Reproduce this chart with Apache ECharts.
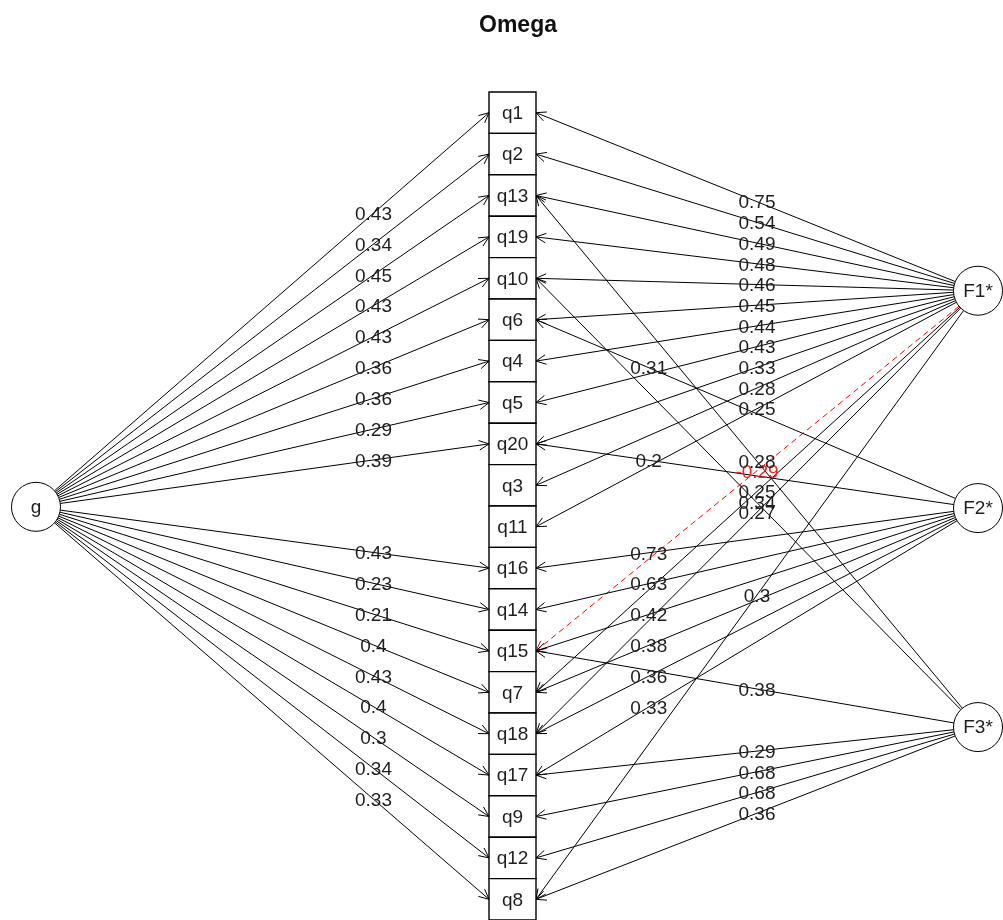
<!DOCTYPE html>
<html><head><meta charset="utf-8">
<script src="https://cdn.jsdelivr.net/npm/echarts@6/dist/echarts.min.js"></script>
<style>html,body{margin:0;padding:0;background:#fff}#c{width:1003px;height:920px}</style>
</head><body><div id="c"></div>
<script>
// ---- data ----
const items = ['q1','q2','q13','q19','q10','q6','q4','q5','q20','q3','q11','q16','q14','q15','q7','q18','q17','q9','q12','q8'];
// general factor loadings, aligned with items (null = not drawn)
const gLoadings = [0.43,0.34,0.45,0.43,0.43,0.36,0.36,0.29,0.39,null,null,0.43,0.23,0.21,0.4,0.43,0.4,0.3,0.34,0.33];
const factorNames = ['F1*','F2*','F3*'];
const f1Items = ['q1','q2','q13','q19','q10','q6','q4','q5','q20','q3','q11','q15','q7','q18','q8'];
const f1Loadings = [0.75,0.54,0.49,0.48,0.46,0.45,0.44,0.43,0.33,0.28,0.25,-0.29,0.25,0.27,0.3];
const f2Items = ['q6','q20','q16','q14','q15','q7','q18','q17'];
const f2Loadings = [0.31,0.2,0.73,0.63,0.42,0.38,0.36,0.33];
const f3Items = ['q13','q10','q15','q17','q9','q12','q8'];
const f3Loadings = [0.28,0.34,0.38,0.29,0.68,0.68,0.36];
const title = 'Omega';

// ---- layout (diagram units: x in px-like units, y in item rows) ----
const X_G = 36, X_BOX_L = 489, X_BOX_R = 536, X_F = 978;
const G_ROW = 9.52;
const F_ROWS = [4.3, 9.55, 14.84];
const NODE_R = 24.5;
const FONT = '"Liberation Sans", Arial, sans-serif';

const edgeData = [];
gLoadings.forEach((v, i) => { if (v != null) edgeData.push([X_G, G_ROW, X_BOX_L, i, v, 0.745]); });
const fSets = [[f1Items, f1Loadings, 0.5], [f2Items, f2Loadings, 0.745], [f3Items, f3Loadings, 0.5]];
fSets.forEach(([its, ls, frac], k) => {
  its.forEach((q, j) => edgeData.push([X_F, F_ROWS[k], X_BOX_R, items.indexOf(q), ls[j], frac]));
});

function renderEdge(params, api) {
  const p1 = api.coord([api.value(0), api.value(1)]);
  const p2 = api.coord([api.value(2), api.value(3)]);
  const v = api.value(4), frac = api.value(5);
  const dx = p2[0] - p1[0], dy = p2[1] - p1[1];
  const L = Math.hypot(dx, dy), ux = dx / L, uy = dy / L;
  const s = [p1[0] + ux * NODE_R, p1[1] + uy * NODE_R];
  const neg = v < 0;
  const color = neg ? '#ff0000' : '#000000';
  const a = Math.atan2(dy, dx), ah = 11, ang = Math.PI / 7;
  const h1 = [p2[0] - ah * Math.cos(a - ang), p2[1] - ah * Math.sin(a - ang)];
  const h2 = [p2[0] - ah * Math.cos(a + ang), p2[1] - ah * Math.sin(a + ang)];
  const lx = p1[0] + dx * frac, ly = p1[1] + dy * frac + 1.5;
  return { type: 'group', children: [
    { type: 'line', shape: { x1: s[0], y1: s[1], x2: p2[0], y2: p2[1] },
      style: { stroke: color, lineWidth: 1, lineDash: neg ? [6, 4] : null } },
    { type: 'polyline', shape: { points: [h1, p2, h2] }, style: { stroke: color, fill: null, lineWidth: 1 } },
    { type: 'text', x: lx, y: ly, z2: 10,
      style: { text: String(v), fill: neg ? '#ee2222' : '#1e1e1e', font: '19px ' + FONT, align: 'center', verticalAlign: 'middle' } }
  ]};
}

function renderBox(params, api) {
  const i = api.value(0);
  const a = api.coord([X_BOX_L, i - 0.5]), b = api.coord([X_BOX_R, i + 0.5]);
  return { type: 'group', children: [
    { type: 'rect', shape: { x: a[0], y: a[1], width: b[0] - a[0], height: b[1] - a[1] },
      style: { stroke: '#000', fill: '#fff', lineWidth: 1.4 } },
    { type: 'text', x: (a[0] + b[0]) / 2, y: (a[1] + b[1]) / 2 + 1,
      style: { text: items[i], fill: '#1e1e1e', font: '19px ' + FONT, align: 'center', verticalAlign: 'middle' } }
  ]};
}

function renderNode(params, api) {
  const p = api.coord([api.value(0), api.value(1)]);
  const name = params.dataIndex === 0 ? 'g' : factorNames[params.dataIndex - 1];
  return { type: 'group', children: [
    { type: 'circle', shape: { cx: p[0], cy: p[1], r: NODE_R }, style: { stroke: '#000', fill: '#fff', lineWidth: 1 } },
    { type: 'text', x: p[0], y: p[1] + 1, style: { text: name, fill: '#1e1e1e', font: '19px ' + FONT, align: 'center', verticalAlign: 'middle' } }
  ]};
}

const nodeData = [[X_G, G_ROW]].concat(F_ROWS.map(r => [X_F, r]));

const chart = echarts.init(document.getElementById('c'), null, { renderer: 'canvas' });
chart.setOption({
  animation: false,
  backgroundColor: '#fff',
  title: { text: title, left: 474, top: 9,
    textStyle: { fontFamily: FONT, fontWeight: 'bold', fontSize: 23, color: '#111' } },
  grid: { left: 0, right: 0, top: 92, bottom: 0 },
  xAxis: { type: 'value', min: 0, max: 1003, show: false },
  yAxis: { type: 'value', min: -0.5, max: 19.5, inverse: true, show: false },
  series: [
    { type: 'custom', renderItem: renderEdge, data: edgeData, clip: false, z: 1 },
    { type: 'custom', renderItem: renderBox, data: items.map((q, i) => [i]), clip: false, z: 2 },
    { type: 'custom', renderItem: renderNode, data: nodeData, clip: false, z: 3 }
  ]
});
</script></body></html>
